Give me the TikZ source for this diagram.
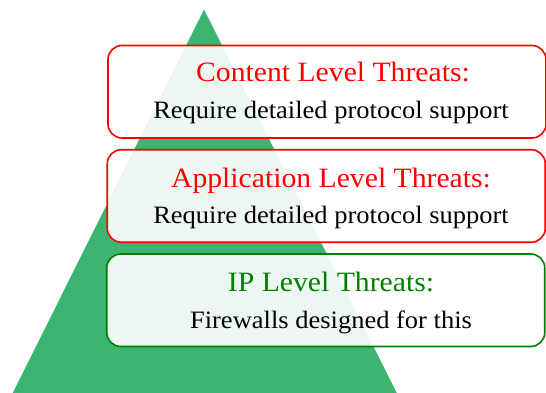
\documentclass[tikz,border=0pt]{standalone}
\usepackage{fontspec}
\setmainfont{Liberation Serif}[FakeStretch=1.06]
\begin{document}
\begin{tikzpicture}[x=1pt,y=-1pt,
  layer/.style={draw,line width=1.6pt,rounded corners=14pt,fill=white,fill opacity=0.9,
    minimum width=438pt,minimum height=92.5pt,inner sep=0pt},
  threat/.style={layer,draw=red},
  safe/.style={layer,draw=ForestGreen},
  headline/.style={anchor=base,inner sep=0pt,font=\fontsize{28}{30}\selectfont},
  detail/.style={anchor=base,inner sep=0pt,font=\fontsize{25}{27}\selectfont,text=black}]
\definecolor{PyramidGreen}{RGB}{62,180,115}
\definecolor{ForestGreen}{RGB}{0,128,0}
\useasboundingbox (0,0) rectangle (546,393);
% pyramid
\fill[PyramidGreen] (204,9.5) -- (12.5,393.5) -- (397,393.5) -- cycle;
% layers
\node[threat] (box1) at (327,91.75) {};
\node[threat] (box2) at (326.25,196) {};
\node[safe]   (box3) at (325.75,300.25) {};
% labels
\node[headline,text=red] (t1) at (333,82) {Content Level Threats:};
\node[detail] (d1) at (331,119) {Require detailed protocol support};
\node[headline,text=red] (t2) at (331,187) {Application Level Threats:};
\node[detail] (d2) at (331,223) {Require detailed protocol support};
\node[headline,text=ForestGreen] (t3) at (331,291) {IP Level Threats:};
\node[detail] (d3) at (331,328) {Firewalls designed for this};
\end{tikzpicture}
\end{document}
